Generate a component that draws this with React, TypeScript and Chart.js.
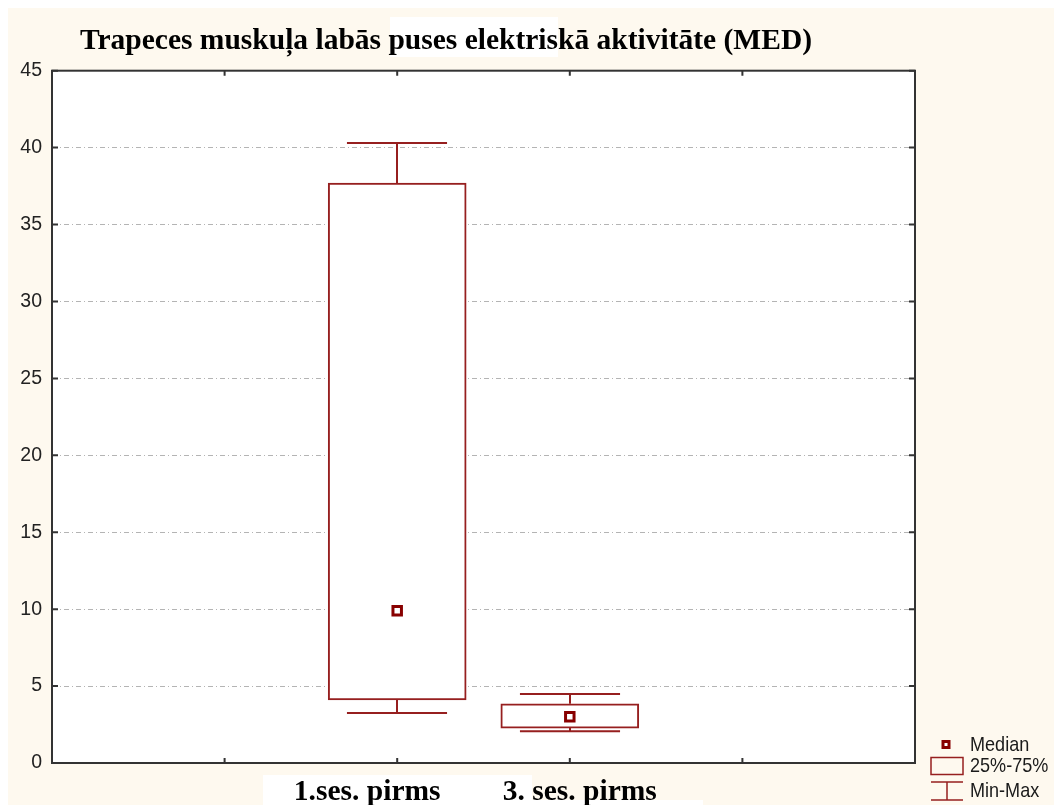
import React, { useEffect, useRef } from "react";
import { Chart, registerables } from "chart.js";

Chart.register(...registerables);

const TITLE = "Trapeces muskuļa labās puses elektriskā aktivitāte (MED)";
const categories = ["1.ses. pirms", "3. ses. pirms"];
const positions = [2, 3];
const mins = [3.25, 2.06];
const q1s = [4.1, 2.27];
const medians = [9.9, 3.0];
const q3s = [37.7, 3.85];
const maxs = [40.3, 4.48];
const xTickPositions = [1, 2, 3, 4];
const legendLabels = ["Median", "25%-75%", "Min-Max"];

const BOX = "#961f1f";
const MED = "#880000";
const SERIF = '"Liberation Serif", "Times New Roman", serif';
const SANS = '"Liberation Sans", Arial, sans-serif';

const customPlugin = {
  id: "custom",
  beforeDraw(chart: any) {
    const { ctx, chartArea } = chart;
    ctx.save();
    ctx.fillStyle = "#ffffff";
    ctx.fillRect(chartArea.left, chartArea.top, chartArea.right - chartArea.left, chartArea.bottom - chartArea.top);
    // white patches behind texts
    ctx.fillRect(382, 9, 168, 40);
    ctx.fillRect(255, 767, 269, 40);
    ctx.fillRect(524, 792, 171, 10);
    ctx.restore();
  },
  afterDatasetsDraw(chart: any) {
    const { ctx } = chart;
    const xs = chart.scales.x;
    const ys = chart.scales.y;
    ctx.save();
    ctx.strokeStyle = BOX;
    ctx.lineWidth = 2;
    const half = (xs.getPixelForValue(1) - xs.getPixelForValue(0)) * 0.29;
    positions.forEach((p, i) => {
      const cx = Math.round(xs.getPixelForValue(p));
      const yMax = ys.getPixelForValue(maxs[i]);
      const yQ3 = ys.getPixelForValue(q3s[i]);
      const yQ1 = ys.getPixelForValue(q1s[i]);
      const yMin = ys.getPixelForValue(mins[i]);
      ctx.beginPath();
      ctx.moveTo(cx, yQ3);
      ctx.lineTo(cx, yMax);
      ctx.moveTo(cx - half, yMax);
      ctx.lineTo(cx + half, yMax);
      ctx.moveTo(cx, yQ1);
      ctx.lineTo(cx, yMin);
      ctx.moveTo(cx - half, yMin);
      ctx.lineTo(cx + half, yMin);
      ctx.stroke();
    });
    ctx.restore();
  },
  afterDraw(chart: any) {
    const { ctx, chartArea } = chart;
    const xs = chart.scales.x;
    const ys = chart.scales.y;
    ctx.save();
    // frame
    ctx.strokeStyle = "#333333";
    ctx.lineWidth = 2;
    ctx.strokeRect(chartArea.left, chartArea.top, chartArea.right - chartArea.left, chartArea.bottom - chartArea.top);
    // inward ticks
    ctx.beginPath();
    ys.ticks.forEach((t: any) => {
      const y = ys.getPixelForValue(t.value);
      ctx.moveTo(chartArea.left, y);
      ctx.lineTo(chartArea.left + 6, y);
      ctx.moveTo(chartArea.right, y);
      ctx.lineTo(chartArea.right - 6, y);
    });
    xTickPositions.forEach((v) => {
      const x = xs.getPixelForValue(v);
      ctx.moveTo(x, chartArea.top);
      ctx.lineTo(x, chartArea.top + 5);
      ctx.moveTo(x, chartArea.bottom);
      ctx.lineTo(x, chartArea.bottom - 5);
    });
    ctx.stroke();

    // title
    ctx.fillStyle = "#000000";
    ctx.font = `bold 29.5px ${SERIF}`;
    ctx.textAlign = "center";
    ctx.textBaseline = "alphabetic";
    ctx.fillText(TITLE, 438, 41);

    // category labels
    const labelOffsets = [-30, 10];
    categories.forEach((c, i) => {
      ctx.fillText(c, xs.getPixelForValue(positions[i]) + labelOffsets[i], 792);
    });

    // legend
    const lx = 923;
    ctx.strokeStyle = MED;
    ctx.lineWidth = 3;
    ctx.fillStyle = "#ffffff";
    ctx.fillRect(935, 733.5, 6, 6);
    ctx.strokeRect(935, 733.5, 6, 6);
    ctx.strokeStyle = BOX;
    ctx.lineWidth = 1.5;
    ctx.strokeRect(lx, 749.5, 32, 17);
    ctx.beginPath();
    ctx.moveTo(lx, 774);
    ctx.lineTo(lx + 32, 774);
    ctx.moveTo(lx + 16, 774);
    ctx.lineTo(lx + 16, 792);
    ctx.moveTo(lx, 792);
    ctx.lineTo(lx + 32, 792);
    ctx.stroke();

    ctx.fillStyle = "#1a1a1a";
    ctx.font = `21px ${SANS}`;
    ctx.textAlign = "left";
    ctx.textBaseline = "middle";
    const ly = [737, 758, 783];
    legendLabels.forEach((t, i) => {
      ctx.save();
      ctx.translate(962, ly[i]);
      ctx.scale(0.86, 1);
      ctx.fillText(t, 0, 0);
      ctx.restore();
    });
    ctx.restore();
  },
};

export default function App() {
  const ref = useRef<HTMLCanvasElement | null>(null);
  useEffect(() => {
    if (!ref.current) return;
    const chart = new Chart(ref.current, {
      data: {
        datasets: [
          {
            type: "bar",
            order: 2,
            data: positions.map((x, i) => ({ x, y: [q1s[i], q3s[i]] })) as any,
            backgroundColor: "#ffffff",
            borderColor: BOX,
            borderWidth: 2,
            borderSkipped: false,
            barThickness: 138,
          } as any,
          {
            type: "scatter",
            order: 1,
            data: positions.map((x, i) => ({ x, y: medians[i] })),
            pointStyle: "rect",
            pointRadius: 6,
            pointBorderWidth: 3,
            pointBackgroundColor: "#ffffff",
            pointBorderColor: MED,
          } as any,
        ],
      },
      options: {
        responsive: false,
        animation: false,
        layout: { padding: { top: 62.7, right: 139, bottom: 42, left: 0 } },
        plugins: {
          legend: { display: false },
          tooltip: { enabled: false },
          title: { display: false },
        },
        scales: {
          x: {
            type: "linear",
            min: 0,
            max: 5,
            offset: false,
            display: false,
          },
          y: {
            type: "linear",
            min: 0,
            max: 45,
            ticks: {
              stepSize: 5,
              color: "#222222",
              padding: 10,
              font: { family: SANS, size: 19.5 },
            },
            grid: { color: "#b4b4b4", lineWidth: 1, drawTicks: false },
            border: { display: false, dash: [5, 3, 1, 3] },
            afterFit: (s: any) => {
              s.width = 44;
            },
          },
        },
      } as any,
      plugins: [customPlugin],
    });
    return () => chart.destroy();
  }, []);
  return (
    <div
      style={{
        position: "absolute",
        left: 8,
        top: 8,
        width: 1046,
        height: 797,
        background: "#fef9ef",
        overflow: "hidden",
      }}
    >
      <canvas ref={ref} width={1046} height={797} style={{ display: "block", width: 1046, height: 797 }} />
    </div>
  );
}
